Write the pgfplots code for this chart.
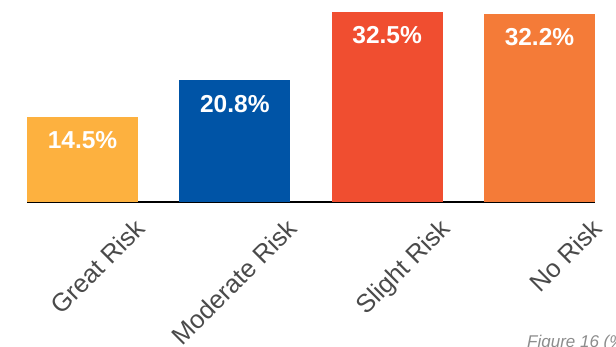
\documentclass[border=0pt]{standalone}
\usepackage{pgfplots}
\pgfplotsset{compat=1.18}
\usepackage{fontspec}
\setmainfont{Liberation Sans}
\definecolor{cGreat}{HTML}{FDB13F}
\definecolor{cMod}{HTML}{0054A6}
\definecolor{cSlight}{HTML}{F04E30}
\definecolor{cNo}{HTML}{F47B38}
\definecolor{tickgray}{HTML}{4A4A4A}
\definecolor{figgray}{HTML}{8C8C8C}
\begin{document}
\begin{tikzpicture}[x=1pt,y=1pt]
\useasboundingbox (0,0) rectangle (616,347);
\clip (0,0) rectangle (616,347);
\begin{axis}[
  at={(27pt,145pt)}, anchor=south west,
  scale only axis, width=568pt, height=199pt,
  xmin=-0.3645, xmax=3.3645, ymin=0, ymax=34,
  axis x line*=bottom, axis y line=none,
  x axis line style={line width=1.6pt, black},
  xtick={0,1,2,3},
  xticklabels={Great Risk, Moderate Risk, Slight Risk, No Risk},
  major tick length=0pt,
  xticklabel style={xshift=51pt, yshift=-15pt, rotate=45, anchor=north east, inner sep=0pt,
    font=\fontsize{25.5}{29}\selectfont, text=tickgray},
  ytick=\empty,
  ybar, bar width=111pt, bar shift=0pt,
  point meta=explicit symbolic,
  nodes near coords,
  every node near coord/.append style={anchor=north, yshift=-14.5pt, inner sep=0pt,
    font=\fontsize{24.5}{28}\selectfont\bfseries, text=white},
  clip=false,
]
\addplot[fill=cGreat, draw=none] coordinates {(0,14.5) [14.5\%]};
\addplot[fill=cMod, draw=none] coordinates {(1,20.8) [20.8\%]};
\addplot[fill=cSlight, draw=none] coordinates {(2,32.5) [32.5\%]};
\addplot[fill=cNo, draw=none] coordinates {(3,32.2) [32.2\%]};
\end{axis}
\node[anchor=base west, inner sep=0pt, font=\fontsize{17}{20}\selectfont\itshape, text=figgray] at (527,-1) {Figure 16 (\%)};
\end{tikzpicture}
\end{document}
